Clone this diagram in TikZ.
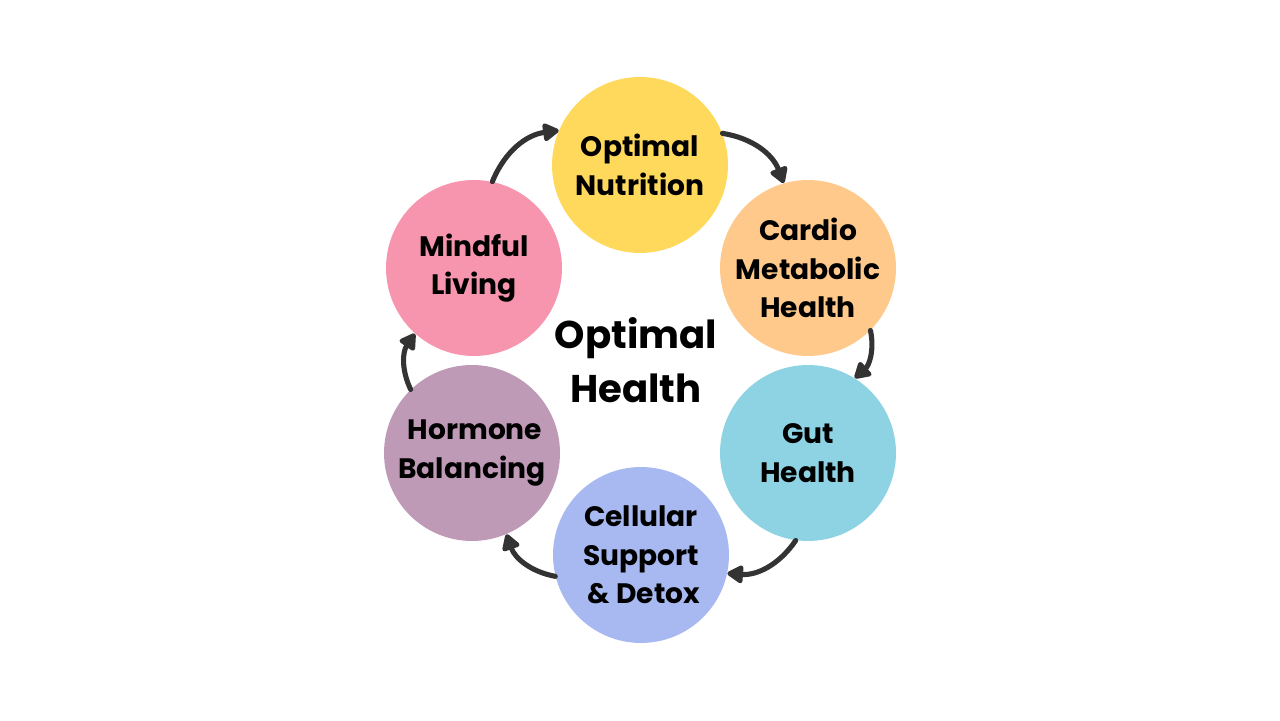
\documentclass[tikz,border=0pt]{standalone}
\usepackage{fontspec}
\setmainfont{Poppins}
\usepackage{tikz}
\usepackage[dvipsnames]{xcolor}
\usetikzlibrary{arrows.meta}

\definecolor{nutri}{HTML}{FFD95C}
\definecolor{cardio}{HTML}{FFC98B}
\definecolor{gutc}{HTML}{8DD3E3}
\definecolor{cellc}{HTML}{A7B9F0}
\definecolor{hormo}{HTML}{BE9AB7}
\definecolor{mindc}{HTML}{F794AE}
\definecolor{arrowc}{HTML}{333333}

\begin{document}
\begin{tikzpicture}[x=0.02cm,y=0.02cm,
        blob/.style={circle,minimum size=3.52cm,inner sep=0pt,align=center,
            font=\fontsize{16}{22}\selectfont\bfseries},
        flow/.style={arrowc,line width=2.9pt,line cap=round,
            -{Triangle[length=3.6mm,width=4mm,round]}}]
                \useasboundingbox (0,0) rectangle (1280,720);
                % the six stages
                \node[blob,fill=nutri] (nut) at (640,555) {Optimal\\Nutrition};
                \node[blob,fill=cardio] (car) at (808,452) {Cardio\\Metabolic\\Health};
                \node[blob,fill=gutc] (gut) at (808,267) {Gut\\Health};
                \node[blob,fill=cellc] (cel) at (641,165) {Cellular\\Support\\\ \& Detox};
                \node[blob,fill=hormo] (hor) at (472,267) {\ Hormone\\Balancing};
                \node[blob,fill=mindc] (mind) at (474,452) {Mindful\\Living};
                \node[font=\fontsize{22}{30.7}\selectfont\bfseries,align=center] (oh) at (636,360) {Optimal\\Health};
                % cycle
                \draw[flow] (mind.78) to[bend left=30] (nut.157);
                \draw[flow] (nut.21) to[bend left=30] (car.106);
                \draw[flow] (car.-45) to[bend left=30] (gut.58);
                \draw[flow] (gut.-98) to[bend left=30] (cel.-12);
                \draw[flow] (cel.194) to[bend left=30] (hor.-67);
                \draw[flow] (hor.134) to[bend left=30] (mind.228);
            \end{tikzpicture}
\end{document}
